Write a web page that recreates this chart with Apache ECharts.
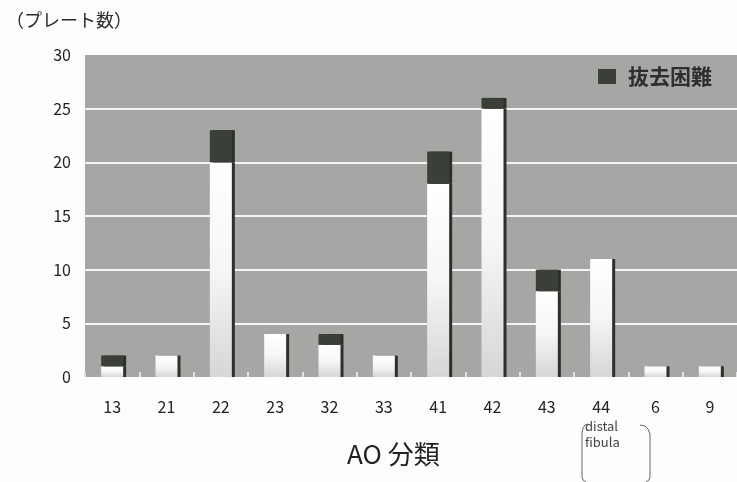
<!DOCTYPE html>
<html>
<head>
<meta charset="utf-8">
<script src="https://cdn.jsdelivr.net/npm/echarts@6/dist/echarts.min.js"></script>
<style>
  html, body { margin: 0; padding: 0; background: #fdfdfd; }
  #chart { width: 737px; height: 482px; }
</style>
</head>
<body>
<div id="chart"></div>
<script>
// AO classification codes on the x axis
const categories = ['13', '21', '22', '23', '32', '33', '41', '42', '43', '44', '6', '9'];
// plates removed without trouble
const removedNormally = [1, 2, 20, 4, 3, 2, 18, 25, 8, 11, 1, 1];
// plates that were hard to remove (抜去困難)
const removalDifficult = [1, 0, 3, 0, 1, 0, 3, 1, 2, 0, 0, 0];
const yTicks = { min: 0, max: 30, interval: 5 };

const FONT = "'Noto Sans CJK JP', 'Noto Sans', sans-serif";
const DARK = '#3a3f37';

const chart = echarts.init(document.getElementById('chart'), null, { renderer: 'canvas' });

chart.setOption({
  backgroundColor: '#fdfdfd',
  animation: false,
  textStyle: { fontFamily: FONT },
  grid: {
    left: 85, right: 0, top: 55, bottom: 105,
    show: true, backgroundColor: '#a6a7a5', borderWidth: 0
  },
  legend: {
    data: [{ name: '抜去困難', icon: 'rect' }],
    left: 593, top: 61,
    itemWidth: 18, itemHeight: 15,
    textStyle: { fontSize: 21, color: '#2e2e2e', fontWeight: 'bold', padding: [0, 0, 0, 7] }
  },
  xAxis: {
    type: 'category',
    data: categories,
    axisLine: { show: false },
    axisTick: { show: true, inside: true, length: 5, lineStyle: { color: '#e2e2e2', width: 2 } },
    axisLabel: { fontSize: 16, color: '#222', margin: 22 }
  },
  yAxis: {
    type: 'value',
    min: yTicks.min, max: yTicks.max, interval: yTicks.interval,
    axisLine: { show: false },
    axisTick: { show: false },
    axisLabel: { fontSize: 16, color: '#222', margin: 14 },
    splitLine: { show: true, showMinLine: false, showMaxLine: false, lineStyle: { color: '#f4f4f4', width: 2 } }
  },
  series: [
    {
      name: '抜去',
      type: 'bar',
      stack: 'plates',
      barWidth: 22,
      data: removedNormally,
      itemStyle: {
        color: new echarts.graphic.LinearGradient(0, 0, 0, 1, [
          { offset: 0, color: '#ffffff' },
          { offset: 0.5, color: '#f6f6f6' },
          { offset: 1, color: '#d6d6d6' }
        ]),
        shadowColor: '#2c302a',
        shadowOffsetX: 3,
        shadowOffsetY: 0,
        shadowBlur: 0
      }
    },
    {
      name: '抜去困難',
      type: 'bar',
      stack: 'plates',
      barWidth: 22,
      data: removalDifficult,
      itemStyle: {
        color: DARK,
        shadowColor: '#2c302a',
        shadowOffsetX: 3,
        shadowOffsetY: 0,
        shadowBlur: 0
      }
    }
  ],
  graphic: [
    {
      type: 'text', left: 6, top: 11,
      style: { text: '（プレート数）', font: '18px ' + FONT, fill: '#2a2a2a' }
    },
    {
      type: 'text', left: 347, top: 441,
      style: { text: 'AO 分類', font: '26px ' + FONT, fill: '#222' }
    },
    {
      type: 'text', left: 585, top: 418,
      style: { text: 'distal\nfibula', font: '13px ' + FONT, fill: '#444', lineHeight: 16 }
    },
    {
      // left bracket around the 44 note
      type: 'polyline',
      shape: { points: [[588, 424], [585, 425], [583, 428], [582, 433], [582, 477], [583, 480], [586, 482]] },
      style: { stroke: '#666', lineWidth: 1, fill: null }
    },
    {
      // right bracket around the 44 note
      type: 'polyline',
      shape: { points: [[640, 425], [645, 426], [648, 429], [650, 434], [650, 477], [649, 480], [646, 482]] },
      style: { stroke: '#666', lineWidth: 1, fill: null }
    }
  ]
});
</script>
</body>
</html>
